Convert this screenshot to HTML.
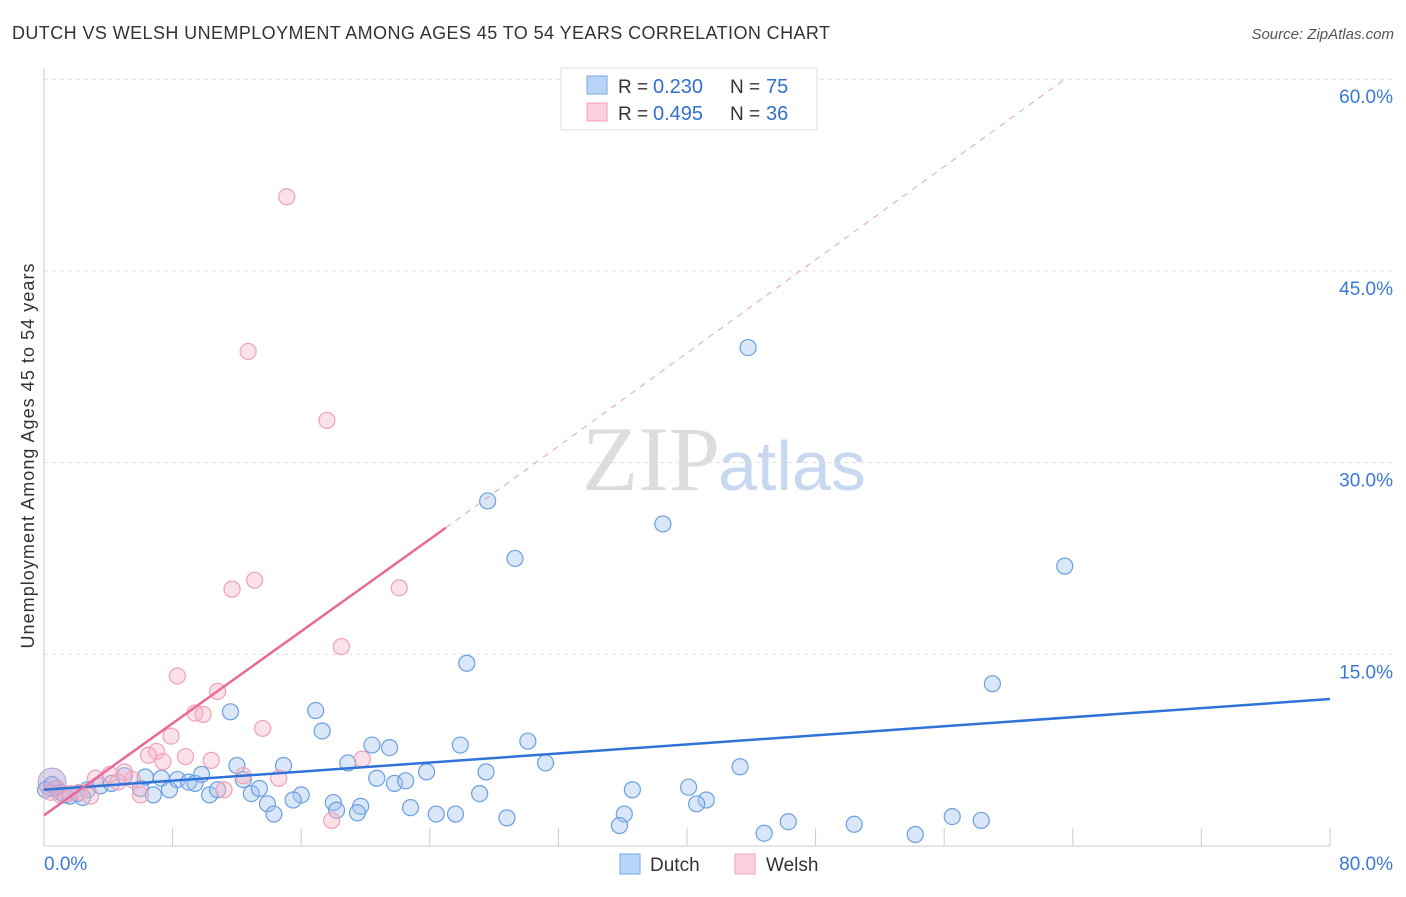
<!DOCTYPE html>
<html><head><meta charset="utf-8"><style>
body{margin:0;background:#fff;font-family:"Liberation Sans",sans-serif}
</style></head><body>
<svg id="c" width="1406" height="892" xmlns="http://www.w3.org/2000/svg" font-family="Liberation Sans, sans-serif">
<text x="12" y="39" font-size="18" fill="#333" textLength="818">DUTCH VS WELSH UNEMPLOYMENT AMONG AGES 45 TO 54 YEARS CORRELATION CHART</text>
<text x="1394" y="39" font-size="15" fill="#555" text-anchor="end" font-style="italic">Source: ZipAtlas.com</text>
<text x="720" y="490" font-size="92" fill="#ddd" text-anchor="end" font-family="Liberation Serif, serif">ZIP</text>
<text x="718" y="490" font-size="70" fill="#c8d8f0">atlas</text>
<g id="grid"></g><g id="marks"></g>
<text transform="translate(34,456) rotate(-90)" font-size="18" fill="#333" text-anchor="middle" textLength="385">Unemployment Among Ages 45 to 54 years</text>
<g>
<rect x="561" y="68" width="256" height="62" fill="#fff" stroke="#ddd"/>
<rect x="587" y="76" width="20" height="18" fill="#b8d4f6" stroke="#7aa8e0"/>
<rect x="587" y="103" width="20" height="18" fill="#fcd0dc" stroke="#f0a0b8"/>
<text x="618" y="93" font-size="19" fill="#333">R = </text><text x="653" y="93" font-size="20" fill="#3070d0">0.230</text>
<text x="730" y="93" font-size="19" fill="#333">N = </text><text x="766" y="93" font-size="20" fill="#3070d0">75</text>
<text x="618" y="120" font-size="19" fill="#333">R = </text><text x="653" y="120" font-size="20" fill="#3070d0">0.495</text>
<text x="730" y="120" font-size="19" fill="#333">N = </text><text x="766" y="120" font-size="20" fill="#3070d0">36</text>
</g>
<g>
<rect x="620" y="854" width="20" height="20" fill="#b8d4f6" stroke="#7aa8e0"/>
<text x="650" y="871" font-size="19" fill="#333">Dutch</text>
<rect x="735" y="854" width="20" height="20" fill="#fcd0dc" stroke="#f0a0b8"/>
<text x="766" y="871" font-size="19" fill="#333">Welsh</text>
</g>
</svg>
<script>
const yTicks=[15,30,45,60];
const yTickLabels=["15.0%","30.0%","45.0%","60.0%"];
const dutchX=[43.8,27.6,38.5,29.3,63.5,26.3,59.0,11.6,16.9,17.3,20.4,21.5,25.9,30.1,31.2,43.3,12.0,14.9,18.9,23.8,27.5,20.7,21.8,22.5,36.6,40.1,41.2,40.6,27.1,16.0,15.5,18.0,19.7,13.9,14.3,18.2,19.5,22.8,24.4,25.6,28.8,36.1,35.8,46.3,50.4,44.8,54.2,56.5,58.3,1.0,1.6,2.1,2.7,3.5,4.2,5.0,6.0,6.3,6.8,7.3,7.8,8.3,9.0,9.4,9.8,10.3,10.8,12.4,12.9,13.4,0.1,1.3,2.4,0.5];
const dutchY=[39.0,27.0,25.2,22.5,21.9,14.3,12.7,10.5,10.6,9.0,7.9,7.7,7.9,8.2,6.5,6.2,6.3,6.3,6.5,5.8,5.8,5.3,4.9,5.1,4.4,4.6,3.6,3.3,4.1,4.0,3.6,3.4,3.1,3.3,2.5,2.8,2.6,3.0,2.5,2.5,2.2,2.5,1.6,1.9,1.7,1.0,0.9,2.3,2.0,4.2,3.9,4.1,4.4,4.7,4.9,5.5,4.5,5.4,4.0,5.3,4.4,5.2,5.0,4.9,5.6,4.0,4.4,5.2,4.1,4.5,4.4,4.0,3.8,4.8];
const welshX=[15.1,12.7,17.6,13.1,11.7,22.1,18.5,8.3,10.8,9.4,9.9,13.6,7.9,7.0,6.5,8.8,7.4,10.4,19.8,12.4,14.6,11.2,6.0,17.9,3.2,4.1,5.0,5.5,1.0,0.4,2.2,2.9,1.6,0.8,4.6];
const welshY=[50.8,38.7,33.3,20.8,20.1,20.2,15.6,13.3,12.1,10.4,10.3,9.2,8.6,7.4,7.1,7.0,6.6,6.7,6.8,5.5,5.3,4.4,4.0,2.0,5.3,5.6,5.8,5.2,4.0,4.2,4.2,3.9,4.1,4.5,5.0];
const dutchTrend=[[0,4.4],[80,11.5]];
const welshTrend=[[0,2.4],[25,24.9]];
const welshTrendExt=[[25,24.9],[63.5,60]];
const X=v=>44+v/80*1286, Y=v=>846-v/15*191.7;
const ns="http://www.w3.org/2000/svg";
const grid=document.getElementById('grid'), marks=document.getElementById('marks');
function mk(tag,a,p){const e=document.createElementNS(ns,tag);for(const k in a)e.setAttribute(k,a[k]);p.appendChild(e);return e;}
yTicks.forEach((t,i)=>{
 const l=mk('line',{x1:44,x2:1394,y1:Y(t),y2:Y(t),stroke:'#ddd','stroke-dasharray':'4,4'},grid);
 
 
 const tx=mk('text',{x:1393,y:Y(t)+24,'font-size':19,fill:'#3a78d8','text-anchor':'end'},grid);
 tx.textContent=yTickLabels[i];
 
 
});
const ax=mk('line',{x1:44,x2:44,y1:68,y2:846,stroke:'#ccc'},grid);


const bx=mk('line',{x1:44,x2:1330,y1:846,y2:846,stroke:'#ccc'},grid);


for(let i=1;i<=10;i++){const t=mk('line',{x1:X(i*8),x2:X(i*8),y1:828,y2:846,stroke:'#ccc'},grid);
 
 }
[["0.0%",44,'start'],["80.0%",1393,'end']].forEach(d=>{const t=mk('text',{x:d[1],y:870,'font-size':19,fill:'#3a78d8','text-anchor':d[2]},grid);t.textContent=d[0];
 
 });
function pts(xs,ys,fill,stroke,name){xs.forEach((x,i)=>{const c=mk('circle',{cx:X(x),cy:Y(ys[i]),r:8,fill:fill,stroke:stroke,'stroke-width':1.2},marks);
 
 });}
pts(dutchX,dutchY,'rgba(160,196,240,0.4)','#6a9fe0','dutch-point');
pts(welshX,welshY,'rgba(248,180,200,0.4)','#f0a0b8','welsh-point');
const big=mk('circle',{cx:X(0.5),cy:Y(5.0),r:14,fill:'rgba(180,160,210,0.45)',stroke:'#b0a0d0','stroke-width':1},marks);


function ln(p,st,w,da,name){const l=mk('line',{x1:X(p[0][0]),y1:Y(p[0][1]),x2:X(p[1][0]),y2:Y(p[1][1]),stroke:st,'stroke-width':w},marks);if(da)l.setAttribute('stroke-dasharray',da);
 
 }
ln(dutchTrend,'#2f72d8',2.5,null,'dutch-trendline');
ln(welshTrend,'#e8699a',2.5,null,'welsh-trendline');
ln(welshTrendExt,'#e8a0b8',1,'6,6','welsh-trendline-extension');
</script>
</body></html>
